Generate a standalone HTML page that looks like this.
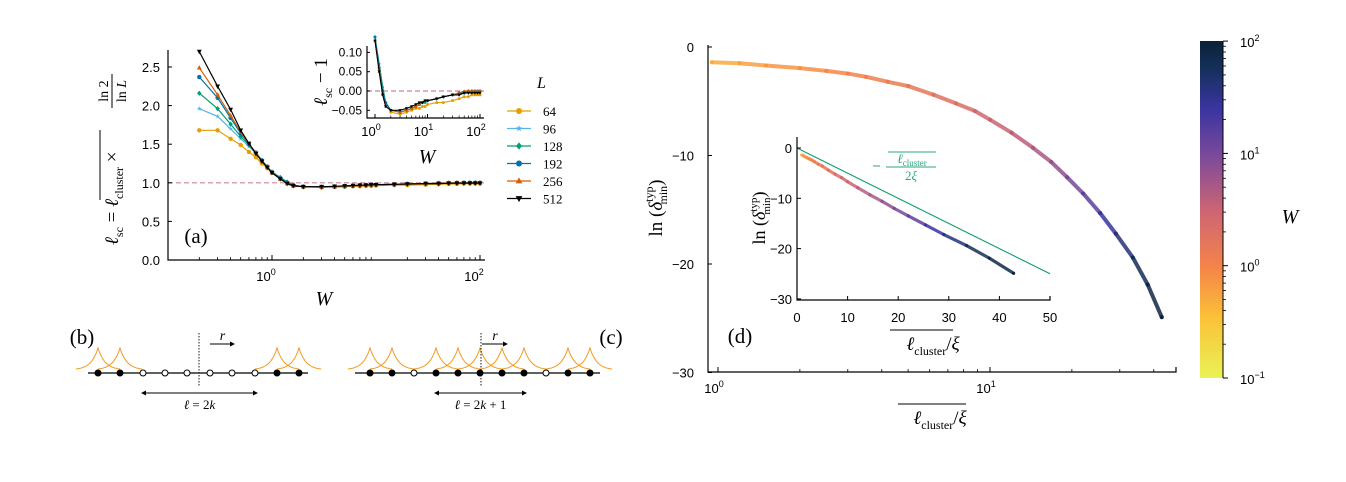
<!DOCTYPE html>
<html><head><meta charset="utf-8"><style>
html,body{margin:0;padding:0;background:#fff;}
svg{display:block;font-family:"Liberation Sans",sans-serif;}
.serif{font-family:"Liberation Serif",serif;}
</style></head><body>
<svg id="fig" width="1346" height="482" viewBox="0 0 1346 482" xmlns="http://www.w3.org/2000/svg">
<defs>
<linearGradient id="cmap" x1="0" y1="1" x2="0" y2="0">
<stop offset="0" stop-color="#e9f356"/><stop offset="0.18" stop-color="#fbc138"/>
<stop offset="0.33" stop-color="#f5834a"/><stop offset="0.5" stop-color="#cc6474"/>
<stop offset="0.66" stop-color="#7a4a9a"/><stop offset="0.8" stop-color="#3a34a0"/>
<stop offset="0.92" stop-color="#14305a"/><stop offset="1" stop-color="#0b2136"/>
</linearGradient>
</defs>
<g id="pa"></g>
<g id="pbc"></g>
<g id="pd"></g>
</svg>
<script>
// ---------- Panel (a) data ----------
const Ws = [0.2,0.3,0.4,0.5,0.6,0.7,0.8,0.9,1,1.2,1.4,1.6,2,3,4,5,6,7,8,9,10,15,20,30,40,50,60,70,80,90,100];
const Ls = ['64','96','128','192','256','512'];
const v64  = [1.68,1.68,1.57,1.49,1.40,1.33,1.25,1.19,1.13,1.06,1.00,0.97,0.945,0.94,0.945,0.95,0.955,0.955,0.96,0.96,0.965,0.97,0.97,0.975,0.98,0.985,0.985,0.99,0.99,0.99,0.99];
const v96  = [1.96,1.86,1.70,1.57,1.47,1.38,1.28,1.21,1.14,1.07,1.01,0.97,0.95,0.945,0.95,0.955,0.96,0.965,0.97,0.97,0.975,0.98,0.985,0.99,0.995,0.995,1.0,1.0,1.0,1.0,1.0];
const v128 = [2.16,1.96,1.76,1.60,1.49,1.39,1.29,1.21,1.14,1.07,1.01,0.97,0.95,0.945,0.95,0.955,0.96,0.965,0.97,0.97,0.975,0.98,0.985,0.99,0.99,0.995,0.995,1.0,1.0,1.0,1.0];
const v192 = [2.37,2.10,1.84,1.64,1.50,1.39,1.29,1.21,1.14,1.06,1.00,0.97,0.95,0.945,0.95,0.955,0.96,0.965,0.97,0.975,0.975,0.98,0.985,0.99,0.995,0.995,1.0,1.0,1.0,1.0,1.0];
const v256 = [2.49,2.14,1.87,1.66,1.50,1.39,1.28,1.21,1.13,1.05,0.99,0.96,0.95,0.945,0.95,0.955,0.96,0.965,0.97,0.975,0.975,0.98,0.985,0.99,0.995,1.0,1.0,1.0,1.0,1.0,1.0];
const v512 = [2.70,2.25,1.95,1.68,1.51,1.38,1.28,1.20,1.13,1.05,0.99,0.96,0.95,0.95,0.955,0.96,0.965,0.97,0.97,0.975,0.975,0.98,0.985,0.99,0.99,0.995,0.995,0.995,0.995,0.995,0.995];
const aYTicks = ['0.0','0.5','1.0','1.5','2.0','2.5'];
const iYTicks = ['0.10','0.05','0.00','−0.05'];
// ---------- Panel (d) data ----------
const dx = [0.95,1.2,1.5,2.0,2.5,3.0,3.5,4.2,5.0,6.2,7.5,8.8,10,12,14.4,16.8,19.2,22,25.4,29,33.5,38,42.8];
const dy = [-1.4,-1.5,-1.7,-1.95,-2.2,-2.45,-2.75,-3.2,-3.6,-4.4,-5.2,-5.9,-6.7,-7.9,-9.3,-10.6,-12,-13.5,-15.3,-17.2,-19.4,-21.9,-24.9];
const dW = [0.5,0.6,0.7,0.8,0.9,1,1.1,1.3,1.5,1.8,2.2,2.7,3.2,4,5,7,10,15,25,40,60,80,100];
const dYTicks = ['0','−10','−20','−30'];
const diXTicks = ['0','10','20','30','40','50'];

const NS='http://www.w3.org/2000/svg';
function mk(parent,tag,attrs,text){const e=document.createElementNS(NS,tag);for(const k in attrs)e.setAttribute(k,attrs[k]);if(text!==undefined)e.textContent=text;parent.appendChild(e);return e;}

const colors={'64':'#e69f00','96':'#56b4e9','128':'#009e73','192':'#0072b2','256':'#d55e00','512':'#000000'};
const series={'64':v64,'96':v96,'128':v128,'192':v192,'256':v256,'512':v512};

function marker(g,L,x,y,s){
  const c=colors[L];let e;
  if(L==='64'||L==='192'){e=mk(g,'circle',{cx:x,cy:y,r:s,fill:c});}
  else if(L==='96'){const p=[];for(let i=0;i<10;i++){const r=i%2?s*0.45:s*1.2;const a=-Math.PI/2+i*Math.PI/5;p.push((x+r*Math.cos(a)).toFixed(1)+','+(y+r*Math.sin(a)).toFixed(1));}e=mk(g,'polygon',{points:p.join(' '),fill:c});}
  else if(L==='128'){e=mk(g,'polygon',{points:`${x},${y-s*1.2} ${x+s},${y} ${x},${y+s*1.2} ${x-s},${y}`,fill:c});}
  else if(L==='256'){e=mk(g,'polygon',{points:`${x},${y-s*1.2} ${x+s*1.1},${y+s*0.8} ${x-s*1.1},${y+s*0.8}`,fill:c});}
  else {e=mk(g,'polygon',{points:`${x},${y+s*1.2} ${x+s*1.1},${y-s*0.8} ${x-s*1.1},${y-s*0.8}`,fill:c});}
  return e;
}

// ---- Panel a main ----
const pa=document.getElementById('pa');
const ax=w=>272+104*Math.log10(w);
const ay=v=>260-77.2*v;
mk(pa,'line',{x1:168,y1:ay(1),x2:484,y2:ay(1),stroke:'#c9879e','stroke-width':1.2,'stroke-dasharray':'5,3'});
for(const L of Ls){
  const g=mk(pa,'g',{});
  
  
  const vals=series[L];
  mk(g,'polyline',{points:Ws.map((w,i)=>ax(w).toFixed(1)+','+ay(vals[i]).toFixed(1)).join(' '),fill:'none',stroke:colors[L],'stroke-width':1.2});
  Ws.forEach((w,i)=>{const m=marker(g,L,ax(w),ay(vals[i]),2.2);});
}
mk(pa,'path',{d:'M168,50 V260 H485',fill:'none',stroke:'#000','stroke-width':1.2});
aYTicks.forEach((t,i)=>{const y=ay(i*0.5);mk(pa,'line',{x1:168,y1:y,x2:172,y2:y,stroke:'#000'});const tx=mk(pa,'text',{x:160,y:y+5,'text-anchor':'end','font-size':13},t);});
[0,2].forEach(p=>{const x=ax(Math.pow(10,p));mk(pa,'line',{x1:x,y1:260,x2:x,y2:255,stroke:'#000'});const t=mk(pa,'text',{x:x-6,y:281,'text-anchor':'middle','font-size':13},'10');mk(t,'tspan',{dy:-6,'font-size':9},String(p));});
for(let d=-1;d<2;d++)for(let k=2;k<10;k++){const w=k*Math.pow(10,d);if(w<0.1)continue;const x=ax(w);if(x>168)mk(pa,'line',{x1:x,y1:260,x2:x,y2:257,stroke:'#000','stroke-width':0.8});}
mk(pa,'text',{x:324,y:305,'text-anchor':'middle','font-size':20,'font-style':'italic',class:'serif',},'W');
mk(pa,'text',{x:196,y:243,'text-anchor':'middle','font-size':21,class:'serif',},'(a)');
// y title rotated
const yt=mk(pa,'g',{transform:'translate(112,160) rotate(-90)',});
const yt1=mk(yt,'text',{x:-85,y:6,'text-anchor':'start','font-size':19,class:'serif'});
yt1.innerHTML='<tspan font-style="italic">ℓ</tspan><tspan font-size="12" dy="5">sc</tspan><tspan dy="-5"> = </tspan><tspan font-style="italic">ℓ</tspan><tspan font-size="12" dy="5">cluster</tspan><tspan dy="-5"> × </tspan>';
mk(yt,'line',{x1:-40,y1:-12,x2:30,y2:-12,stroke:'#000','stroke-width':1});
mk(yt,'line',{x1:52,y1:0,x2:86,y2:0,stroke:'#000','stroke-width':1});
mk(yt,'text',{x:69,y:-4,'text-anchor':'middle','font-size':14,class:'serif'},'ln 2');
const lnL=mk(yt,'text',{x:69,y:14,'text-anchor':'middle','font-size':14,class:'serif'});lnL.innerHTML='ln <tspan font-style="italic">L</tspan>';

// ---- Panel a inset ----
const ix=w=>375+52.5*Math.log10(w);
const iy=v=>91-386*v;
mk(pa,'line',{x1:367,y1:iy(0),x2:484,y2:iy(0),stroke:'#c9879e','stroke-width':1.2,'stroke-dasharray':'5,3'});
for(const L of Ls){
  const g=mk(pa,'g',{});
  
  
  const vals=series[L];const idx=Ws.map((w,i)=>i).filter(i=>Ws[i]>=1);
  mk(g,'polyline',{points:idx.map(i=>ix(Ws[i]).toFixed(1)+','+Math.min(118,iy(vals[i]-1)).toFixed(1)).join(' '),fill:'none',stroke:colors[L],'stroke-width':1.1});
  idx.forEach(i=>{const m=marker(g,L,ix(Ws[i]),iy(vals[i]-1),1.5);});
}
mk(pa,'path',{d:'M367,46 V118 H484',fill:'none',stroke:'#000','stroke-width':1.2});
iYTicks.forEach((t,i)=>{const y=iy(0.10-0.05*i);mk(pa,'line',{x1:367,y1:y,x2:370,y2:y,stroke:'#000'});mk(pa,'text',{x:362,y:y+4,'text-anchor':'end','font-size':12},t);});
[0,1,2].forEach(p=>{const x=ix(Math.pow(10,p));mk(pa,'line',{x1:x,y1:118,x2:x,y2:114,stroke:'#000'});const t=mk(pa,'text',{x:x-4,y:136,'text-anchor':'middle','font-size':13},'10');mk(t,'tspan',{dy:-6,'font-size':9},String(p));});
for(let d=0;d<2;d++)for(let k=2;k<10;k++){const x=ix(k*Math.pow(10,d));mk(pa,'line',{x1:x,y1:118,x2:x,y2:115.5,stroke:'#000','stroke-width':0.7});}
mk(pa,'text',{x:427,y:163,'text-anchor':'middle','font-size':20,'font-style':'italic',class:'serif'},'W');
const it=mk(pa,'text',{transform:'translate(327,82) rotate(-90)','text-anchor':'middle','font-size':19,class:'serif'});
it.innerHTML='<tspan font-style="italic">ℓ</tspan><tspan font-size="12" dy="5">sc</tspan><tspan dy="-5"> − 1</tspan>';

// ---- Legend ----
const lg=mk(pa,'g',{});
mk(lg,'text',{x:537,y:88,'font-size':16,'font-style':'italic',class:'serif'},'L');
Ls.forEach((L,i)=>{const y=111+17.5*i;const e=mk(lg,'g',{});
  mk(e,'line',{x1:507,y1:y,x2:531,y2:y,stroke:colors[L],'stroke-width':1.3});marker(e,L,519,y,3);
  mk(e,'text',{x:543,y:y+5,'font-size':13,class:'serif'},L);});

// ---- Panels b, c ----
const pb=document.getElementById('pbc');
const orange='#f39a1e';
function chain(xs,filled,line,vline,rArr,lArr,lab){
  const g=mk(pb,'g',{});
  xs.forEach((x,i)=>{if(filled[i]){let d='';for(let t=-22;t<=22;t+=1){const yy=370-22*Math.exp(-Math.abs(t)/7);d+=(t===-22?'M':'L')+(x+t)+','+yy.toFixed(1);}mk(g,'path',{d:d,fill:'none',stroke:orange,'stroke-width':1});}});
  mk(g,'line',{x1:line[0],y1:373,x2:line[1],y2:373,stroke:'#000','stroke-width':1.2});
  mk(g,'line',{x1:vline,y1:333,x2:vline,y2:387,stroke:'#000','stroke-width':0.9,'stroke-dasharray':'1.5,1.5'});
  xs.forEach((x,i)=>mk(g,'circle',{cx:x,cy:373,r:3,fill:filled[i]?'#000':'#fff',stroke:'#000','stroke-width':1}));
  mk(g,'line',{x1:rArr[0],y1:344,x2:rArr[1]-4,y2:344,stroke:'#000'});
  mk(g,'polygon',{points:`${rArr[1]},344 ${rArr[1]-5},341.5 ${rArr[1]-5},346.5`,fill:'#000'});
  mk(g,'text',{x:(rArr[0]+rArr[1])/2,y:340,'text-anchor':'middle','font-size':14,'font-style':'italic',class:'serif'},'r');
  mk(g,'line',{x1:lArr[0]+4,y1:393,x2:lArr[1]-4,y2:393,stroke:'#000'});
  mk(g,'polygon',{points:`${lArr[1]},393 ${lArr[1]-5},390.5 ${lArr[1]-5},395.5`,fill:'#000'});
  mk(g,'polygon',{points:`${lArr[0]},393 ${lArr[0]+5},390.5 ${lArr[0]+5},395.5`,fill:'#000'});
  const t=mk(g,'text',{x:(lArr[0]+lArr[1])/2,y:409,'text-anchor':'middle','font-size':13,class:'serif'});t.innerHTML=lab;
  return g;
}
const gb=chain([98,120,143,165,187,210,232,255,277,299],[1,1,0,0,0,0,0,0,1,1],[88,308],199,[210,235],[141,258],'<tspan font-style="italic">ℓ</tspan> = 2<tspan font-style="italic">k</tspan>');

const gc=chain([370,392,414,436,458,480,502,524,546,568,590],[1,1,0,1,1,1,1,1,0,1,1],[355,600],481,[482,508],[434,527],'<tspan font-style="italic">ℓ</tspan> = 2<tspan font-style="italic">k</tspan> + 1');

mk(pb,'text',{x:82,y:344,'text-anchor':'middle','font-size':21,class:'serif'},'(b)');
mk(pb,'text',{x:611,y:344,'text-anchor':'middle','font-size':21,class:'serif'},'(c)');

// ---- Panel d ----
const pd=document.getElementById('pd');
const cstops=[[0,[233,243,86]],[0.18,[251,193,56]],[0.33,[245,131,74]],[0.5,[204,100,116]],[0.66,[122,74,154]],[0.8,[58,52,160]],[0.92,[20,48,90]],[1,[11,33,54]]];
function cmap(w){let t=(Math.log10(w)+1)/3;t=Math.max(0,Math.min(1,t));for(let i=1;i<cstops.length;i++){if(t<=cstops[i][0]){const a=cstops[i-1],b=cstops[i];const f=(t-a[0])/(b[0]-a[0]);return 'rgb('+a[1].map((c,j)=>Math.round(c+(b[1][j]-c)*f)).join(',')+')';}}return 'rgb(11,33,54)';}
const dxs=v=>718+272*Math.log10(v);
const dys=v=>47-10.85*v;
function drawSeries(g,fx,fy,w,r){
  for(let i=0;i<dx.length-1;i++){mk(g,'line',{x1:fx(dx[i]),y1:fy(dy[i]),x2:fx(dx[i+1]),y2:fy(dy[i+1]),stroke:cmap(dW[i]),'stroke-width':w,'stroke-linecap':'round',opacity:0.85});}
  dx.forEach((v,i)=>{const c=mk(g,'circle',{cx:fx(v),cy:fy(dy[i]),r:r,fill:cmap(dW[i])});});
}
const gm=mk(pd,'g',{});
drawSeries(gm,dxs,dys,4,2);
mk(pd,'path',{d:'M708,45 V372 H1176 V367',fill:'none',stroke:'#000','stroke-width':1.2});
dYTicks.forEach((t,i)=>{const y=dys(-10*i);mk(pd,'line',{x1:708,y1:y,x2:712,y2:y,stroke:'#000'});mk(pd,'text',{x:694,y:y+5,'text-anchor':'end','font-size':13},t);});
[0,1].forEach(p=>{const x=dxs(Math.pow(10,p));mk(pd,'line',{x1:x,y1:372,x2:x,y2:367,stroke:'#000'});const t=mk(pd,'text',{x:x-4,y:393,'text-anchor':'middle','font-size':13},'10');mk(t,'tspan',{dy:-6,'font-size':9},String(p));});
for(let d=0;d<2;d++)for(let k=2;k<10;k++){const x=dxs(k*Math.pow(10,d));if(x<1176)mk(pd,'line',{x1:x,y1:372,x2:x,y2:369,stroke:'#000','stroke-width':0.8});}
const dxt=mk(pd,'text',{x:940,y:424,'text-anchor':'middle','font-size':19,class:'serif',});
dxt.innerHTML='<tspan font-style="italic">ℓ</tspan><tspan font-size="12" dy="5">cluster</tspan><tspan dy="-5">/</tspan><tspan font-style="italic">ξ</tspan>';
mk(pd,'line',{x1:898,y1:404,x2:966,y2:404,stroke:'#000'});
const dyt=mk(pd,'text',{transform:'translate(662,208) rotate(-90)','text-anchor':'middle','font-size':19,class:'serif',});
dyt.innerHTML='ln (<tspan font-style="italic">δ</tspan><tspan font-size="12" dy="-9">typ</tspan><tspan font-size="12" dx="-18" dy="14">min</tspan><tspan dy="-5">)</tspan>';
mk(pd,'text',{x:740,y:343,'text-anchor':'middle','font-size':21,class:'serif',},'(d)');

// inset d
const ixd=v=>797+5.06*v;
const iyd=v=>148-5.03*v;
mk(pd,'line',{x1:ixd(0),y1:iyd(0),x2:ixd(50),y2:iyd(-25),stroke:'#109e6e','stroke-width':1.1,});
const gi=mk(pd,'g',{});
drawSeries(gi,ixd,iyd,3.2,1.5);
mk(pd,'path',{d:'M797,137 V300 H1050 V296',fill:'none',stroke:'#000','stroke-width':1.2});
dYTicks.forEach((t,i)=>{const y=iyd(-10*i);mk(pd,'line',{x1:797,y1:y,x2:801,y2:y,stroke:'#000'});mk(pd,'text',{x:792,y:y+5,'text-anchor':'end','font-size':13},t);});
diXTicks.forEach((t,i)=>{const x=ixd(10*i);mk(pd,'line',{x1:x,y1:300,x2:x,y2:296,stroke:'#000'});mk(pd,'text',{x:x,y:322,'text-anchor':'middle','font-size':13},t);});
const ixt=mk(pd,'text',{x:933,y:350,'text-anchor':'middle','font-size':19,class:'serif'});
ixt.innerHTML='<tspan font-style="italic">ℓ</tspan><tspan font-size="12" dy="5">cluster</tspan><tspan dy="-5">/</tspan><tspan font-style="italic">ξ</tspan>';
mk(pd,'line',{x1:890,y1:330,x2:953,y2:330,stroke:'#000'});
const iyt=mk(pd,'text',{transform:'translate(765,218) rotate(-90)','text-anchor':'middle','font-size':18,class:'serif'});
iyt.innerHTML='ln (<tspan font-style="italic">δ</tspan><tspan font-size="11" dy="-8">typ</tspan><tspan font-size="11" dx="-17" dy="13">min</tspan><tspan dy="-5">)</tspan>';
// green label
mk(pd,'line',{x1:873,y1:166,x2:880,y2:166,stroke:'#2aa87a'});
const gl=mk(pd,'text',{x:912,y:163,'text-anchor':'middle','font-size':13,fill:'#2aa87a',class:'serif'});
gl.innerHTML='<tspan font-style="italic">ℓ</tspan><tspan font-size="9" dy="3">cluster</tspan>';
mk(pd,'line',{x1:888,y1:152,x2:936,y2:152,stroke:'#2aa87a'});
mk(pd,'line',{x1:886,y1:167,x2:936,y2:167,stroke:'#2aa87a'});
const gl2=mk(pd,'text',{x:911,y:180,'text-anchor':'middle','font-size':13,fill:'#2aa87a',class:'serif'});gl2.innerHTML='2<tspan font-style="italic">ξ</tspan>';

// colorbar
const cb=mk(pd,'g',{});
mk(cb,'rect',{x:1200,y:41,width:23,height:337,fill:'url(#cmap)'});
const cby=p=>378-112.3*(p+1);
[-1,0,1,2].forEach(p=>{const y=cby(p);mk(cb,'line',{x1:1223,y1:y,x2:1228,y2:y,stroke:'#000'});const t=mk(cb,'text',{x:1240,y:y+6,'font-size':13},'10');mk(t,'tspan',{dy:-6,'font-size':9},String(p).replace('-','−'));});
for(let d=-1;d<2;d++)for(let k=2;k<10;k++){const y=cby(d+Math.log10(k));mk(cb,'line',{x1:1223,y1:y,x2:1226,y2:y,stroke:'#000','stroke-width':0.8});}
mk(cb,'line',{x1:1223,y1:41,x2:1223,y2:378,stroke:'#000','stroke-width':1});
mk(cb,'text',{x:1290,y:223,'text-anchor':'middle','font-size':20,'font-style':'italic',class:'serif'},'W');
</script>
</body></html>
